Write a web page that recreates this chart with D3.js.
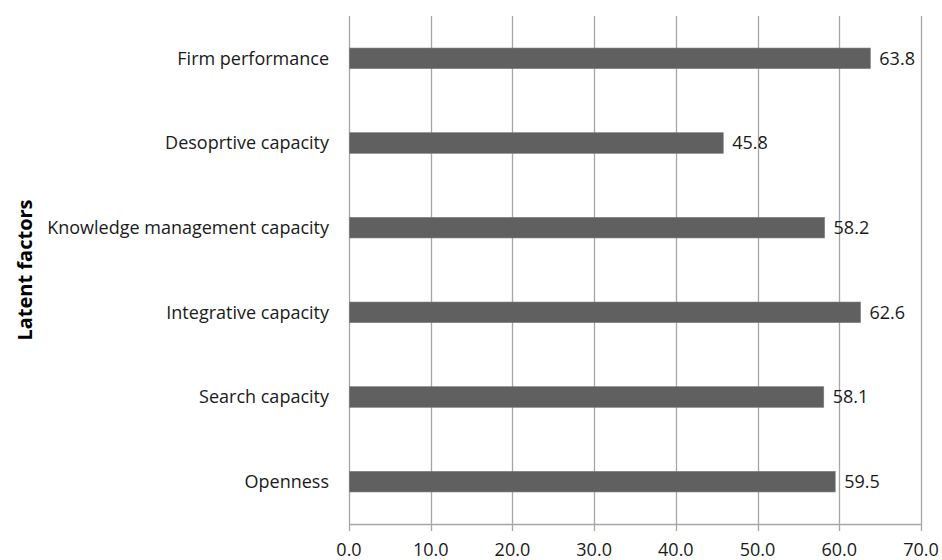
<!DOCTYPE html>
<html>
<head>
<meta charset="utf-8">
<script src="https://cdn.jsdelivr.net/npm/d3@7"></script>
<style>
  html, body { margin: 0; padding: 0; background: #fff; }
  svg text { font-family: "Open Sans", "Liberation Sans", sans-serif; fill: #1a1a1a; }
</style>
</head>
<body>
<svg id="chart" width="942" height="560"></svg>
<script>
// Latent factor scores, listed top to bottom
const categories = [
  "Firm performance",
  "Desoprtive capacity",
  "Knowledge management capacity",
  "Integrative capacity",
  "Search capacity",
  "Openness"
];
const values = [63.8, 45.8, 58.2, 62.6, 58.1, 59.5];
const xTicks = [0, 10, 20, 30, 40, 50, 60, 70];
const yTitle = "Latent factors";

const svg = d3.select("#chart");
const margin = { top: 16, right: 21, bottom: 36, left: 349 };
const width = 942 - margin.left - margin.right;
const height = 560 - margin.top - margin.bottom;

const g = svg.append("g").attr("transform", `translate(${margin.left},${margin.top})`);

const x = d3.scaleLinear().domain([0, 70]).range([0, width]);
const y = d3.scaleBand().domain(categories).range([0, height]).paddingInner(0.757).paddingOuter(0.3785);

// vertical gridlines (including the value axis at 0)
g.selectAll("line.grid").data(xTicks).join("line")
  .attr("class", "grid")
  .attr("x1", d => Math.round(x(d)) + 0.5).attr("x2", d => Math.round(x(d)) + 0.5)
  .attr("y1", 0).attr("y2", height + 7)
  .attr("stroke", "#a6a6a6").attr("stroke-width", 1.3);

// bottom axis line
g.append("line")
  .attr("x1", 0).attr("x2", width + 0.5)
  .attr("y1", height + 0.5).attr("y2", height + 0.5)
  .attr("stroke", "#a6a6a6").attr("stroke-width", 1.3);

// x tick labels
g.selectAll("text.xtick").data(xTicks).join("text")
  .attr("class", "xtick")
  .attr("x", d => x(d)).attr("y", height + 32)
  .attr("text-anchor", "middle")
  .style("font-size", "18px")
  .text(d => d.toFixed(1));

// bars
g.selectAll("rect.bar").data(values).join("rect")
  .attr("class", "bar")
  .attr("x", 0.5)
  .attr("y", (d, i) => y(categories[i]))
  .attr("width", d => x(d) - 0.5)
  .attr("height", y.bandwidth())
  .attr("fill", "#606060")
  .attr("stroke", "#7a7a7a").attr("stroke-width", 0.6);

// value labels
g.selectAll("text.val").data(values).join("text")
  .attr("class", "val")
  .attr("x", d => x(d) + 9)
  .attr("y", (d, i) => y(categories[i]) + y.bandwidth() / 2)
  .attr("dy", "0.36em")
  .style("font-size", "18px")
  .text(d => d.toFixed(1));

// category labels
g.selectAll("text.cat").data(categories).join("text")
  .attr("class", "cat")
  .attr("x", -20)
  .attr("y", d => y(d) + y.bandwidth() / 2)
  .attr("dy", "0.36em")
  .attr("text-anchor", "end")
  .style("font-size", "18px")
  .text(d => d);

// axis title
svg.append("text")
  .attr("transform", "translate(32,270) rotate(-90)")
  .attr("text-anchor", "middle")
  .style("font-size", "20px")
  .style("font-weight", "bold")
  .style("fill", "#000")
  .text(yTitle);
</script>
</body>
</html>
